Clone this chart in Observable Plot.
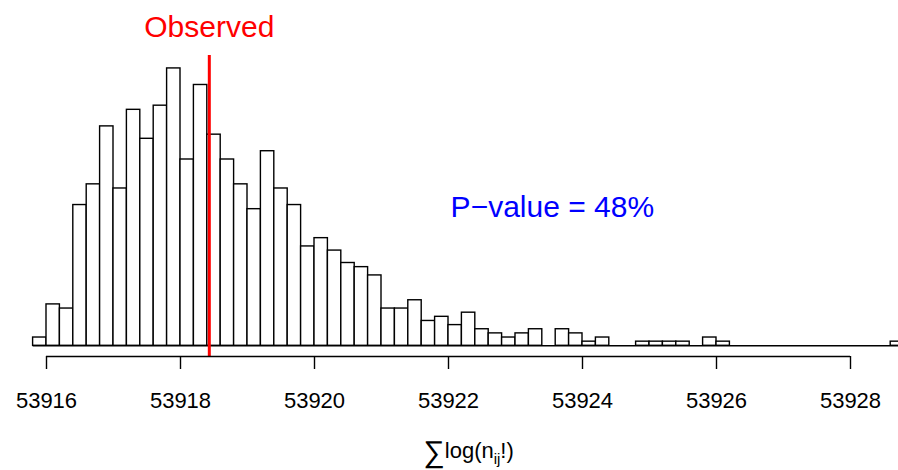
<!DOCTYPE html>
<html><head><meta charset="utf-8">
<script src="https://cdn.jsdelivr.net/npm/d3@7"></script>
<script src="https://cdn.jsdelivr.net/npm/@observablehq/plot@0.6"></script>
<style>body{margin:0;background:#fff}</style>
</head><body><div id="chart"></div>
<script>
// Histogram bins (lower edges), width 0.2
const binStarts = [
  53915.8,
  53916.0, 53916.2, 53916.4, 53916.6, 53916.8,
  53917.0, 53917.2, 53917.4, 53917.6, 53917.8,
  53918.0, 53918.2, 53918.4, 53918.6, 53918.8,
  53919.0, 53919.2, 53919.4, 53919.6, 53919.8,
  53920.0, 53920.2, 53920.4, 53920.6, 53920.8,
  53921.0, 53921.2, 53921.4, 53921.6, 53921.8,
  53922.0, 53922.2, 53922.4, 53922.6, 53922.8,
  53923.0, 53923.2, 53923.4, 53923.6, 53923.8,
  53924.0, 53924.2, 53924.4, 53924.6, 53924.8,
  53925.0, 53925.2, 53925.4, 53925.6, 53925.8,
  53926.0, 53926.2, 53926.4, 53926.6, 53926.8,
  53927.0, 53927.2, 53927.4, 53927.6, 53927.8,
  53928.0, 53928.2, 53928.4, 53928.6
];
const counts = [
  2,
  10, 9, 34, 39, 53,
  38, 57, 50, 58, 67,
  45, 63, 51, 45, 39,
  33, 47, 38, 34, 24,
  26, 23, 20, 19, 17,
  9, 9, 11, 6, 7,
  5, 8, 4, 3, 2,
  3, 4, 0, 4, 3,
  1, 2, 0, 0, 1,
  1, 1, 1, 0, 2,
  1, 0, 0, 0, 0,
  0, 0, 0, 0, 0,
  0, 0, 0, 1
];
const binWidth = 0.2;
const tickValues = [53916, 53918, 53920, 53922, 53924, 53926, 53928];
const observed = 53918.43;
const observedLabel = "Observed";
const pValueLabel = "P\u2212value = 48%";
const axisTitle = "\u2211log(nij!)";
const axisTitleParts = [
  {text: "\u2211", role: "sym"},
  {text: "log(n", role: "base"},
  {text: "ij", role: "sub"},
  {text: "!)", role: "base"}
];

const bins = binStarts.map((x1, i) => ({x1, x2: x1 + binWidth, count: counts[i]}));

const font = '"Liberation Sans", Arial, Helvetica, sans-serif';
const unit = 4.14;
const base = 345.3;

const plot = Plot.plot({
  width: 898, height: 470,
  marginTop: 0, marginRight: 0, marginLeft: 0, marginBottom: 114,
  style: {fontFamily: font, background: "white", color: "black", overflow: "hidden"},
  x: {domain: [53916, 53928], range: [46, 850], axis: null},
  y: {domain: [0, 67], range: [base, base - 67 * unit], axis: null},
  marks: [
    Plot.rectY(bins.filter(d => d.count > 0), {x1: "x1", x2: "x2", y: "count", fill: "white", stroke: "black", strokeWidth: 1.4, insetLeft: 0, insetRight: 0}),
    Plot.ruleY([0], {x1: binStarts[0], x2: binStarts[binStarts.length - 1] + binWidth, stroke: "black", strokeWidth: 1.4}),
    Plot.ruleX([observed], {y1: -2.6, y2: 70.1, stroke: "#ff0000", strokeWidth: 3}),
    Plot.ruleY([0], {x1: tickValues[0], x2: tickValues[tickValues.length - 1], dy: 10.7, stroke: "black", strokeWidth: 1.4}),
    Plot.axisX({ticks: tickValues, tickFormat: d => String(d), tickSize: 13, tickPadding: 22.6, fontSize: 22, strokeWidth: 1.4, label: null, fill: "black", stroke: "black"}),
    Plot.text([observedLabel], {x: observed, y: 74.5, lineAnchor: "bottom", fill: "#ff0000", fontSize: 30}),
    Plot.text([pValueLabel], {x: 53923.55, y: 31.06, lineAnchor: "bottom", fill: "#0000ff", fontSize: 30}),
    Plot.text([axisTitle], {x: 53922.3, frameAnchor: "bottom", dy: 101, lineAnchor: "bottom", fontSize: 22, fill: "black"})
  ]
});

document.getElementById("chart").appendChild(plot);

// Rich-text axis title (summation sign + subscript)
const t = d3.select(plot).selectAll("text").filter(function () { return this.textContent === axisTitle; });
t.text(null);
let shift = 0;
for (const p of axisTitleParts) {
  const ts = t.append("tspan").text(p.text);
  let target = 0, size = 22;
  if (p.role === "sym") { target = 4; size = 30; }
  if (p.role === "sub") { target = 6; size = 15; }
  ts.attr("font-size", size).attr("dy", target - shift);
  shift = target;
}
</script>
</body></html>
